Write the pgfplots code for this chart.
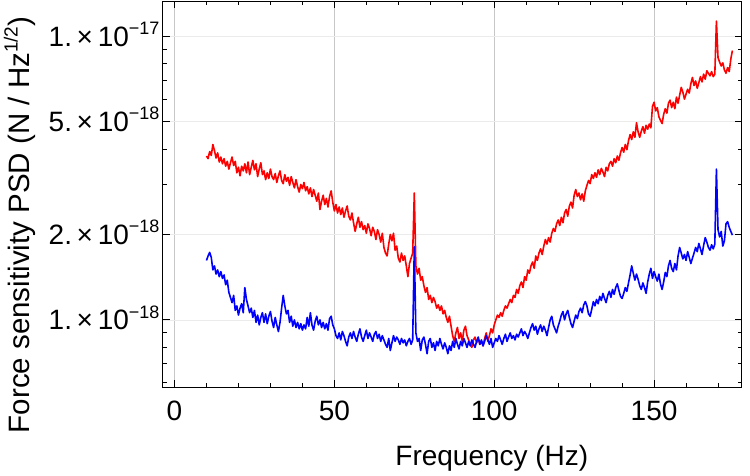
\documentclass[border=0pt]{standalone}
\usepackage{fontspec}
\setmainfont{Liberation Sans}
\usepackage{pgfplots}
\pgfplotsset{compat=1.18}
\usepackage{pgfplotstable}

% scientific tick label: mantissa x 10^exp
\newcommand{\sci}[2]{#1.\,×\,10\raisebox{0.42em}{\fontsize{18}{18}\selectfont #2}}

% force sensitivity PSD, in units of 1e-18 N/Hz^{1/2}
\pgfplotstableread{
f red blue
10.0 3.78 1.62
10.5 3.70 1.68
11.0 3.92 1.73
11.5 3.80 1.66
12.0 4.15 1.50
12.5 3.95 1.55
13.0 3.72 1.45
13.5 3.88 1.50
14.0 3.60 1.42
14.5 3.75 1.48
15.0 3.55 1.40
15.5 3.70 1.44
16.0 3.48 1.33
16.5 3.62 1.38
17.0 3.40 1.25
17.5 3.58 1.20
18.0 3.75 1.15
18.5 3.50 1.22
19.0 3.62 1.08
19.5 3.30 1.12
20.0 3.45 1.04
20.5 3.22 1.10
21.0 3.48 1.14
21.5 3.35 1.06
22.0 3.55 1.30
22.5 3.30 1.18
23.0 3.60 1.12
23.5 3.25 1.06
24.0 3.45 1.10
24.5 3.65 1.02
25.0 3.38 1.08
25.5 3.55 0.98
26.0 3.20 1.04
26.5 3.40 0.96
27.0 3.58 1.02
27.5 3.25 1.06
28.0 3.35 0.98
28.5 3.12 1.05
29.0 3.30 0.97
29.5 3.15 1.03
30.0 3.40 1.07
30.5 3.20 0.99
31.0 3.12 0.94
31.5 3.28 1.02
32.0 3.05 0.96
32.5 3.22 0.91
33.0 3.35 0.98
33.5 3.10 1.10
34.0 3.02 1.22
34.5 3.25 1.12
35.0 3.08 1.05
35.5 3.18 1.08
36.0 2.98 0.98
36.5 3.20 1.03
37.0 3.05 0.95
37.5 2.92 1.00
38.0 3.12 0.94
38.5 2.95 0.98
39.0 2.82 0.93
39.5 3.00 0.97
40.0 2.90 0.92
40.5 3.05 0.96
41.0 2.85 0.93
41.5 2.95 1.02
42.0 2.78 0.95
42.5 2.92 1.06
43.0 2.72 0.96
43.5 2.88 0.92
44.0 2.75 0.99
44.5 2.62 1.03
45.0 2.80 0.96
45.5 2.45 1.00
46.0 2.62 0.94
46.5 2.75 0.98
47.0 2.55 0.93
47.5 2.68 0.97
48.0 2.50 0.92
48.5 2.72 1.01
49.0 2.85 1.03
49.5 2.60 0.96
50.0 2.42 0.93
50.5 2.55 0.88
51.0 2.38 0.86
51.5 2.50 0.90
52.0 2.35 0.85
52.5 2.48 0.91
53.0 2.30 0.88
53.5 2.42 0.84
54.0 2.52 0.81
54.5 2.32 0.87
55.0 2.25 0.90
55.5 2.38 0.86
56.0 2.20 0.91
56.5 2.05 0.87
57.0 2.18 0.84
57.5 2.30 0.89
58.0 2.12 0.93
58.5 2.22 0.87
59.0 2.08 0.84
59.5 2.15 0.88
60.0 2.02 0.92
60.5 2.18 0.86
61.0 2.10 0.90
61.5 1.98 0.87
62.0 2.12 0.84
62.5 2.05 0.89
63.0 1.92 0.91
63.5 2.08 0.86
64.0 2.00 0.89
64.5 1.88 0.84
65.0 2.02 0.88
65.5 1.80 0.85
66.0 1.72 0.82
66.5 1.68 0.80
67.0 1.85 0.86
67.5 2.00 0.78
68.0 1.90 0.83
68.5 2.02 0.88
69.0 1.76 0.84
69.5 1.82 0.87
70.0 1.65 0.85
70.5 1.60 0.82
71.0 1.72 0.86
71.5 1.62 0.83
72.0 1.68 0.85
72.5 1.55 0.81
73.0 1.42 0.84
73.5 1.58 0.86
74.0 1.65 0.82
74.5 1.72 0.85
75.0 2.80 1.81
75.5 1.55 0.90
76.0 1.45 0.84
76.5 1.52 0.86
77.0 1.38 0.78
77.5 1.42 0.85
78.0 1.32 0.87
78.5 1.25 0.82
79.0 1.30 0.76
79.5 1.18 0.84
80.0 1.22 0.86
80.5 1.15 0.80
81.0 1.20 0.83
81.5 1.16 0.78
82.0 1.10 0.84
82.5 1.13 0.81
83.0 1.08 0.86
83.5 1.12 0.82
84.0 1.05 0.79
84.5 1.08 0.83
85.0 1.02 0.80
85.5 0.98 0.76
86.0 1.03 0.81
86.5 0.95 0.78
87.0 0.88 0.84
87.5 0.84 0.80
88.0 0.90 0.86
88.5 0.94 0.82
89.0 0.86 0.79
89.5 0.90 0.84
90.0 0.84 0.81
90.5 0.92 0.86
91.0 0.95 0.83
91.5 0.88 0.80
92.0 0.85 0.84
92.5 0.82 0.81
93.0 0.80 0.85
93.5 0.85 0.82
94.0 0.87 0.80
94.5 0.83 0.84
95.0 0.86 0.87
95.5 0.82 0.82
96.0 0.84 0.85
96.5 0.81 0.81
97.0 0.86 0.84
97.5 0.90 0.88
98.0 0.84 0.85
98.5 0.88 0.82
99.0 0.93 0.86
99.5 0.90 0.80
100.0 0.96 0.83
100.5 1.00 0.86
101.0 1.04 0.84
101.5 1.02 0.88
102.0 1.06 0.85
102.5 1.03 0.82
103.0 1.08 0.86
103.5 1.12 0.89
104.0 1.10 0.84
104.5 1.14 0.87
105.0 1.18 0.90
105.5 1.15 0.86
106.0 1.22 0.88
106.5 1.20 0.85
107.0 1.28 0.89
107.5 1.24 0.87
108.0 1.32 0.90
108.5 1.36 0.93
109.0 1.30 0.88
109.5 1.42 0.91
110.0 1.38 0.89
110.5 1.50 0.86
111.0 1.46 0.90
111.5 1.55 0.94
112.0 1.60 0.97
112.5 1.52 0.92
113.0 1.68 0.95
113.5 1.62 0.89
114.0 1.72 0.93
114.5 1.78 0.96
115.0 1.70 0.91
115.5 1.82 0.95
116.0 1.92 0.92
116.5 1.85 0.88
117.0 1.95 0.94
117.5 1.88 1.00
118.0 2.02 1.03
118.5 2.10 0.96
119.0 2.05 0.93
119.5 2.18 0.90
120.0 2.25 0.95
120.5 2.15 0.99
121.0 2.30 1.04
121.5 2.20 1.07
122.0 2.38 1.00
122.5 2.45 1.05
123.0 2.32 1.08
123.5 2.52 1.02
124.0 2.60 0.97
124.5 2.48 0.94
125.0 2.75 0.99
125.5 2.88 1.04
126.0 2.72 1.01
126.5 2.80 1.07
127.0 2.65 1.10
127.5 2.78 1.06
128.0 2.62 1.13
128.5 2.85 1.16
129.0 2.98 1.12
129.5 3.10 1.05
130.0 3.02 1.03
130.5 3.25 1.09
131.0 3.15 1.16
131.5 3.30 1.12
132.0 3.18 1.18
132.5 3.38 1.14
133.0 3.25 1.21
133.5 3.42 1.17
134.0 3.32 1.24
134.5 3.20 1.19
135.0 3.45 1.15
135.5 3.35 1.22
136.0 3.55 1.26
136.5 3.62 1.20
137.0 3.48 1.28
137.5 3.70 1.23
138.0 3.58 1.30
138.5 3.78 1.34
139.0 3.65 1.27
139.5 3.88 1.21
140.0 4.05 1.19
140.5 3.90 1.24
141.0 4.15 1.30
141.5 3.98 1.26
142.0 4.28 1.35
142.5 4.50 1.44
143.0 4.32 1.55
143.5 4.60 1.46
144.0 4.40 1.38
144.5 4.95 1.45
145.0 4.60 1.39
145.5 4.40 1.32
146.0 4.62 1.28
146.5 4.80 1.35
147.0 4.55 1.30
147.5 4.85 1.24
148.0 4.70 1.36
148.5 4.90 1.45
149.0 4.75 1.52
149.5 5.65 1.40
150.0 5.85 1.48
150.5 5.45 1.42
151.0 5.60 1.37
151.5 5.20 1.45
152.0 5.05 1.34
152.5 4.92 1.28
153.0 5.30 1.36
153.5 5.55 1.47
154.0 5.35 1.42
154.5 5.80 1.55
155.0 5.95 1.62
155.5 5.60 1.52
156.0 5.85 1.48
156.5 5.55 1.58
157.0 6.10 1.50
157.5 5.80 1.68
158.0 6.20 1.80
158.5 6.60 1.72
159.0 6.35 1.64
159.5 6.00 1.70
160.0 6.25 1.62
160.5 6.50 1.74
161.0 6.30 1.66
161.5 6.80 1.58
162.0 7.15 1.65
162.5 6.70 1.72
163.0 6.95 1.80
163.5 6.55 1.74
164.0 6.85 1.86
164.5 7.20 1.78
165.0 6.90 1.70
165.5 7.35 1.83
166.0 7.05 1.95
166.5 7.55 1.88
167.0 7.40 1.80
167.5 7.25 1.76
168.0 7.50 1.84
168.5 7.20 1.78
169.0 7.35 1.85
169.5 11.30 3.40
170.0 8.40 2.08
170.5 8.10 1.96
171.0 7.85 2.05
171.5 8.05 1.82
172.0 7.60 1.90
172.5 7.40 2.18
173.0 7.75 2.22
173.5 7.50 2.12
174.0 8.30 2.05
174.5 8.90 1.99
}\psd

\begin{document}
\begin{tikzpicture}
\useasboundingbox (-163pt,-88pt) rectangle (587pt,387pt);
\begin{axis}[
  scale only axis,
  width=579pt, height=386pt,
  xmin=-3.6, xmax=177.5,
  ymode=log, ymin=0.58, ymax=13.3,
  xtick={0,50,100,150},
  minor xtick={10,20,30,40,60,70,80,90,110,120,130,140,160,170},
  ytick={1,2,5,10},
  yticklabels={\sci{1}{−18},\sci{2}{−18},\sci{5}{−18},\sci{1}{−17}},
  minor ytick={0.6,0.7,0.8,0.9,3,4,6,7,8,9},
  tick align=inside,
  major tick length=7pt, minor tick length=4pt,
  every tick/.style={black, line width=0.9pt},
  axis line style={black, line width=1pt},
  xmajorgrids, ymajorgrids,
  x grid style={black!22, line width=0.7pt},
  y grid style={black!8, line width=0.7pt},
  /pgf/number format/assume math mode=true,
  ticklabel style={font=\fontsize{28}{32}\selectfont},
  xticklabel style={anchor=base, yshift=-33pt},
  yticklabel style={anchor=base east, yshift=-10pt},
  xlabel={Frequency (Hz)},
  ylabel={Force sensitivity PSD (N / Hz\raisebox{0.42em}{\fontsize{19}{19}\selectfont 1/2})},
  xlabel style={font=\fontsize{28}{32}\selectfont,
    at={(axis description cs:0.568,0)}, anchor=base, yshift=-78pt},
  ylabel style={font=\fontsize{29.5}{33}\selectfont,
    at={(axis description cs:-0.2297,0.42)}, anchor=base},
]
\addplot[red, line width=1.6pt, line join=round] table[x=f, y=red] {\psd};
\addplot[blue, line width=1.6pt, line join=round] table[x=f, y=blue] {\psd};
\end{axis}
\end{tikzpicture}
\end{document}
